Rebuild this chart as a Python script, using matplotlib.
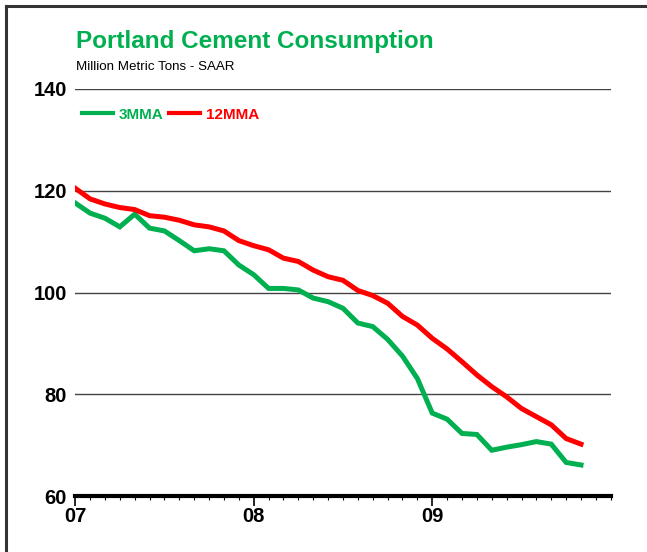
import matplotlib
matplotlib.use("Agg")
import matplotlib.pyplot as plt
from matplotlib import font_manager
from matplotlib.lines import Line2D
from matplotlib.ticker import MultipleLocator
import numpy as np

# monthly values, Jan 2007 .. Nov 2009 (million metric tons, SAAR)
months = np.arange(35)
mma3 = [117.6, 115.6, 114.6, 112.9, 115.4, 112.65, 112.1, 110.2, 108.2, 108.6,
        108.2, 105.4, 103.5, 100.8, 100.8, 100.5, 98.9, 98.2, 96.9, 94.0,
        93.3, 90.8, 87.5, 83.1, 76.3, 75.1, 72.3, 72.1, 69.0, 69.6,
        70.1, 70.7, 70.2, 66.6, 66.1]
mma12 = [120.5, 118.4, 117.4, 116.7, 116.3, 115.1, 114.8, 114.2, 113.3, 112.9,
         112.1, 110.2, 109.2, 108.4, 106.75, 106.1, 104.4, 103.1, 102.4, 100.4,
         99.4, 97.9, 95.3, 93.6, 91.0, 88.9, 86.4, 83.8, 81.5, 79.5,
         77.2, 75.6, 74.0, 71.3, 70.2]
year_pos = [0, 12, 24]
year_labels = ["07", "08", "09"]
y_ticks = [60, 80, 100, 120, 140]

names = {f.name for f in font_manager.fontManager.ttflist}
narrow = "Liberation Sans Narrow" if "Liberation Sans Narrow" in names else "Liberation Sans"
plt.rcParams['font.family'] = [narrow, 'DejaVu Sans']

GREEN = "#00B050"
RED = "#FF0000"

fig = plt.figure(figsize=(6.47, 5.52), dpi=100)
ax = fig.add_axes([0.1162, 0.1014, 0.944 - 0.1162, 0.8388 - 0.1014])

ax.plot(months, mma3, color=GREEN, lw=3.6, label="3MMA", solid_joinstyle="miter")
ax.plot(months, mma12, color=RED, lw=3.6, label="12MMA", solid_joinstyle="miter")

ax.set_xlim(0, 36)
ax.set_ylim(60, 140)
ax.set_yticks(y_ticks)
ax.set_yticklabels([str(v) for v in y_ticks], fontsize=14.5, fontweight="bold")
ax.set_xticks(year_pos)
ax.set_xticklabels(year_labels, fontsize=14.5, fontweight="bold")
ax.xaxis.set_minor_locator(MultipleLocator(1))
ax.tick_params(axis="x", which="major", length=7, width=1.2, direction="out", pad=1)
ax.tick_params(axis="x", which="minor", length=3, width=0.8, direction="out")
ax.tick_params(axis="y", length=0, pad=6)

for v in y_ticks[1:]:
    ax.axhline(v, color="#444444", lw=1.0, zorder=0)

for s in ["top", "right", "left"]:
    ax.spines[s].set_visible(False)
ax.spines["bottom"].set_linewidth(3)
ax.spines["bottom"].set_color("black")

leg = ax.legend(loc="upper left", bbox_to_anchor=(-0.013, 0.988), ncol=2, frameon=False,
                handlelength=2.0, handletextpad=0.4, columnspacing=0.4,
                prop={"size": 11, "weight": "bold"}, labelcolor="linecolor")
for h in leg.get_lines():
    h.set_linewidth(3)

fig.text(0.1175, 0.9245, "Portland Cement Consumption", color=GREEN,
         fontsize=17.5, fontweight="bold", va="center", ha="left")
fig.text(0.1175, 0.878, "Million Metric Tons - SAAR", color="black",
         fontsize=9.6, va="center", ha="left")

# frame around the picture (left and top edges visible)
fig.add_artist(Line2D([6 / 647, 6 / 647], [0, 1 - 6 / 552], transform=fig.transFigure,
                      color="#333333", lw=2.2))
fig.add_artist(Line2D([6 / 647, 1], [1 - 6 / 552, 1 - 6 / 552], transform=fig.transFigure,
                      color="#333333", lw=2.2))

fig.savefig("out.png", dpi=100)
